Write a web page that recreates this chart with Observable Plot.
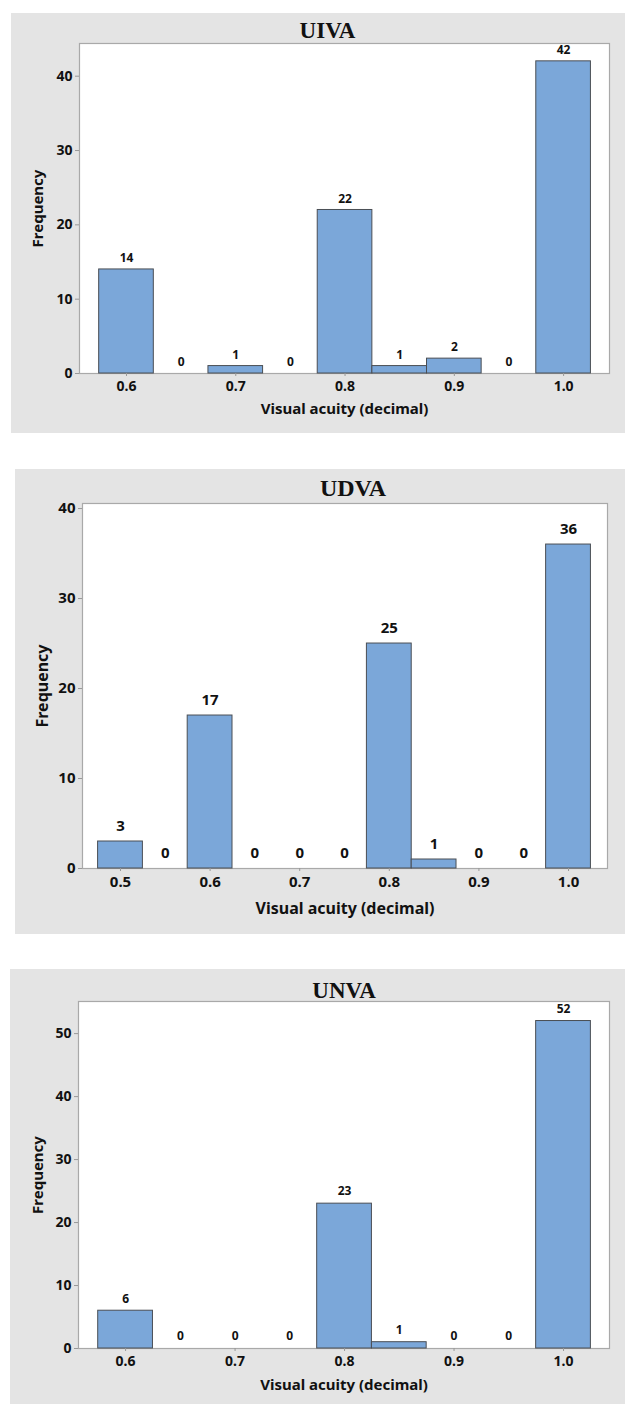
<!DOCTYPE html>
<html>
<head>
<meta charset="utf-8">
<script src="https://cdn.jsdelivr.net/npm/d3@7"></script>
<script src="https://cdn.jsdelivr.net/npm/@observablehq/plot@0.6"></script>
<style>
  html, body { margin: 0; padding: 0; background: #ffffff; }
  #page { position: relative; width: 625px; height: 1404px; overflow: hidden; }
  .panel { position: absolute; }
  .panel svg { display: block; }
</style>
</head>
<body>
<div id="page"></div>
<script>
// Histogram bins (bin centres, width 0.05) and their counts
const binWidth = 0.05;

const uivaBins   = [0.6, 0.65, 0.7, 0.75, 0.8, 0.85, 0.9, 0.95, 1.0];
const uivaCounts = [14, 0, 1, 0, 22, 1, 2, 0, 42];

const udvaBins   = [0.5, 0.55, 0.6, 0.65, 0.7, 0.75, 0.8, 0.85, 0.9, 0.95, 1.0];
const udvaCounts = [3, 0, 17, 0, 0, 0, 25, 1, 0, 0, 36];

const unvaBins   = [0.6, 0.65, 0.7, 0.75, 0.8, 0.85, 0.9, 0.95, 1.0];
const unvaCounts = [6, 0, 0, 0, 23, 1, 0, 0, 52];

// Axis tick values
const uivaXTicks = [0.6, 0.7, 0.8, 0.9, 1.0];
const udvaXTicks = [0.5, 0.6, 0.7, 0.8, 0.9, 1.0];
const unvaXTicks = [0.6, 0.7, 0.8, 0.9, 1.0];
const uivaYTicks = [0, 10, 20, 30, 40];
const udvaYTicks = [0, 10, 20, 30, 40];
const unvaYTicks = [0, 10, 20, 30, 40, 50];

const xLabel = "Visual acuity (decimal)";
const yLabel = "Frequency";

const BAR_FILL = "#7ba7d9";
const BAR_STROKE = "#4a4e54";
const FRAME_STROKE = "#a9a9a9";
const PANEL_BG = "#e4e4e4";
const SANS = "'Noto Sans', 'DejaVu Sans', sans-serif";
const SERIF = "'Liberation Serif', 'DejaVu Serif', serif";

function histogram(cfg) {
  const rows = cfg.bins.map((b, i) => ({bin: b, count: cfg.counts[i]}));
  const tick = cfg.tickFont, val = cfg.valueFont;
  return Plot.plot({
    width: cfg.width,
    height: cfg.height,
    marginLeft: cfg.ml, marginRight: cfg.mr, marginTop: cfg.mt, marginBottom: cfg.mb,
    style: {background: PANEL_BG, fontFamily: SANS, overflow: "visible", color: "#111"},
    x: {type: "linear", domain: cfg.xDomain},
    y: {domain: cfg.yDomain},
    marks: [
      Plot.frame({fill: "white", stroke: FRAME_STROKE, strokeWidth: 1.2}),
      Plot.rectY(rows, {
        x1: d => d.bin - binWidth / 2,
        x2: d => d.bin + binWidth / 2,
        y1: 0, y2: "count",
        fill: BAR_FILL, stroke: BAR_STROKE, strokeWidth: 1
      }),
      // count label above every bin, including empty ones
      Plot.text(rows, {
        x: "bin", y: "count", text: d => String(d.count),
        dy: -cfg.valueOffset, lineAnchor: "middle",
        fontSize: val, fontWeight: "bold", fill: "#111"
      }),
      Plot.axisX({
        ticks: cfg.xTicks, tickFormat: d => d.toFixed(1), tickSize: 3,
        tickPadding: cfg.xTickPad, fontSize: tick, fontWeight: "bold",
        stroke: "#999", label: null, fill: "#111"
      }),
      Plot.axisY({
        ticks: cfg.yTicks, tickSize: 4, tickPadding: 3,
        fontSize: tick, fontWeight: "bold", stroke: "#999", label: null, fill: "#111"
      }),
      Plot.text([xLabel], {
        frameAnchor: "bottom", lineAnchor: "middle", dy: cfg.xLabelOffset,
        fontSize: cfg.labelFont, fontWeight: "bold", fill: "#111"
      }),
      Plot.text([yLabel], {
        frameAnchor: "left", textAnchor: "middle", lineAnchor: "middle",
        rotate: -90, dx: -cfg.yLabelOffset,
        fontSize: cfg.labelFont, fontWeight: "bold", fill: "#111"
      }),
      Plot.text([cfg.title], {
        frameAnchor: "top", lineAnchor: "middle", dy: -cfg.titleOffset, dx: cfg.titleDx,
        fontFamily: SERIF, fontSize: cfg.titleFont, fontWeight: "bold", fill: "#111"
      })
    ]
  });
}

const panels = [
  {
    left: 11, top: 13, title: "UIVA", bins: uivaBins, counts: uivaCounts,
    width: 614, height: 420, ml: 68, mr: 16, mt: 30, mb: 60,
    xDomain: [0.557, 1.042], yDomain: [0, 44.4],
    xTicks: uivaXTicks, yTicks: uivaYTicks,
    tickFont: 14, valueFont: 12, labelFont: 15, titleFont: 23,
    valueOffset: 11, xTickPad: 5, xLabelOffset: 36,
    yLabelOffset: 41, titleOffset: 13, titleDx: -17
  },
  {
    left: 15, top: 469, title: "UDVA", bins: udvaBins, counts: udvaCounts,
    width: 610, height: 465, ml: 67, mr: 18, mt: 34, mb: 66,
    xDomain: [0.4576, 1.0435], yDomain: [0, 40.56],
    xTicks: udvaXTicks, yTicks: udvaYTicks,
    tickFont: 15, valueFont: 15, labelFont: 16, titleFont: 24,
    valueOffset: 15, xTickPad: 5, xLabelOffset: 40,
    yLabelOffset: 40, titleOffset: 15, titleDx: 8
  },
  {
    left: 10, top: 969, title: "UNVA", bins: unvaBins, counts: unvaCounts,
    width: 615, height: 435, ml: 68, mr: 16, mt: 32, mb: 56,
    xDomain: [0.557, 1.042], yDomain: [0, 55.1],
    xTicks: unvaXTicks, yTicks: unvaYTicks,
    tickFont: 14, valueFont: 12, labelFont: 15, titleFont: 23,
    valueOffset: 12, xTickPad: 5, xLabelOffset: 37,
    yLabelOffset: 40, titleOffset: 11, titleDx: 0
  }
];

const page = document.getElementById("page");
for (const cfg of panels) {
  const div = document.createElement("div");
  div.className = "panel";
  div.style.left = cfg.left + "px";
  div.style.top = cfg.top + "px";
  div.appendChild(histogram(cfg));
  page.appendChild(div);
}
</script>
</body>
</html>
